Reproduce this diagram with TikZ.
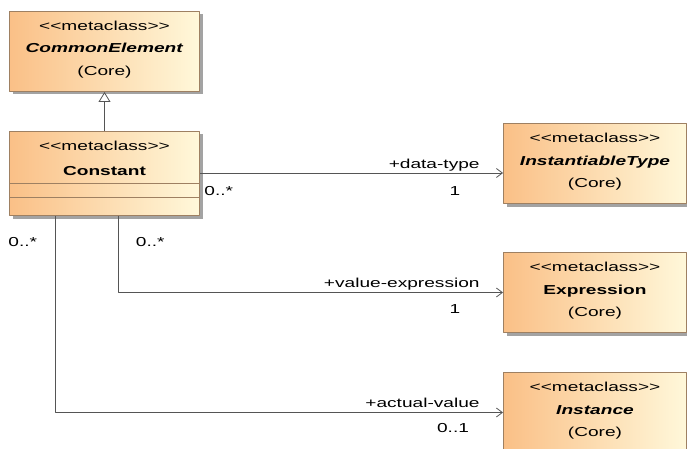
\documentclass[tikz,border=0pt]{standalone}
\usepackage{fontspec}
\newfontfamily\umlfont[FakeStretch=1.47]{Liberation Sans}
\usetikzlibrary{arrows.meta,shadows,positioning}
\definecolor{umlorange}{RGB}{250,192,135}
\definecolor{umlcream}{RGB}{255,248,218}
\definecolor{umlborder}{RGB}{158,128,98}
\definecolor{umlline}{RGB}{85,85,85}
\tikzset{
	metaclass/.style={draw=umlborder, line width=1pt, left color=umlorange, right color=umlcream,
		drop shadow={shadow xshift=3pt, shadow yshift=-3pt, fill=black!45, opacity=.8},
		align=center, inner sep=0pt, text height=64pt, text depth=16pt,
		minimum width=190pt, anchor=north west},
	assoc/.style={draw=umlline, line width=.8pt, -{Straight Barb[length=6pt,width=9pt]}},
	role/.style={inner sep=0pt}
}
\begin{document}
\begin{tikzpicture}[x=1pt, y=-1pt, font=\umlfont\fontsize{13}{22.5}\selectfont, line join=round]
	\useasboundingbox (0,0) rectangle (687,449);
	%Các lớp bên trái
	\node[metaclass] (common) at (9,11) {<<metaclass>>\\\textbf{\textit{CommonElement}}\\(Core)};
	\node[metaclass, text height=44pt, text depth=40pt] (constant) at (9,131) {<<metaclass>>\\[2.5pt]\textbf{Constant}};
	\draw[umlborder, line width=1pt] ([yshift=-52pt]constant.north west) -- ([yshift=-52pt]constant.north east);
	\draw[umlborder, line width=1pt] ([yshift=-66pt]constant.north west) -- ([yshift=-66pt]constant.north east);
	%Các lớp bên phải
	\node[metaclass, minimum width=183pt] (insttype) at (503,123) {<<metaclass>>\\\textbf{\textit{InstantiableType}}\\(Core)};
	\node[metaclass, minimum width=183pt] (expression) at (503,252) {<<metaclass>>\\\textbf{Expression}\\(Core)};
	\node[metaclass, minimum width=183pt] (instance) at (503,372) {<<metaclass>>\\\textbf{\textit{Instance}}\\(Core)};
	%Kế thừa
	\draw[umlline, line width=.8pt, -{Triangle[open, length=10pt, width=12pt, fill=white]}] (constant) -- (common);
	%Các liên kết
	\coordinate (dtstart) at ([yshift=-42pt]constant.north east);
	\draw[assoc] (dtstart) -- (dtstart -| insttype.west)
		node[role, pos=1, anchor=base east, xshift=-23pt, yshift=5pt] (dtrole) {+data-type}
		node[role, pos=1, anchor=base, xshift=-48pt, yshift=-22pt] (dtmult) {1}
		node[role, pos=0, anchor=base west, xshift=4pt, yshift=-22pt] (dtsrc) {0..*};
	\draw[assoc] ([xshift=14pt]constant.south) |- (expression.west)
		node[role, pos=0, anchor=base west, xshift=17pt, yshift=-30pt] (vesrc) {0..*}
		node[role, pos=1, anchor=base east, xshift=-23pt, yshift=5pt] (verole) {+value-expression}
		node[role, pos=1, anchor=base, xshift=-48pt, yshift=-21pt] (vemult) {1};
	\draw[assoc] ([xshift=-49pt]constant.south) |- (instance.west)
		node[role, pos=0, anchor=base east, xshift=-18pt, yshift=-30pt] (avsrc) {0..*}
		node[role, pos=1, anchor=base east, xshift=-23pt, yshift=5pt] (avrole) {+actual-value}
		node[role, pos=1, anchor=base, xshift=-50pt, yshift=-20pt] (avmult) {0..1};
\end{tikzpicture}
\end{document}
